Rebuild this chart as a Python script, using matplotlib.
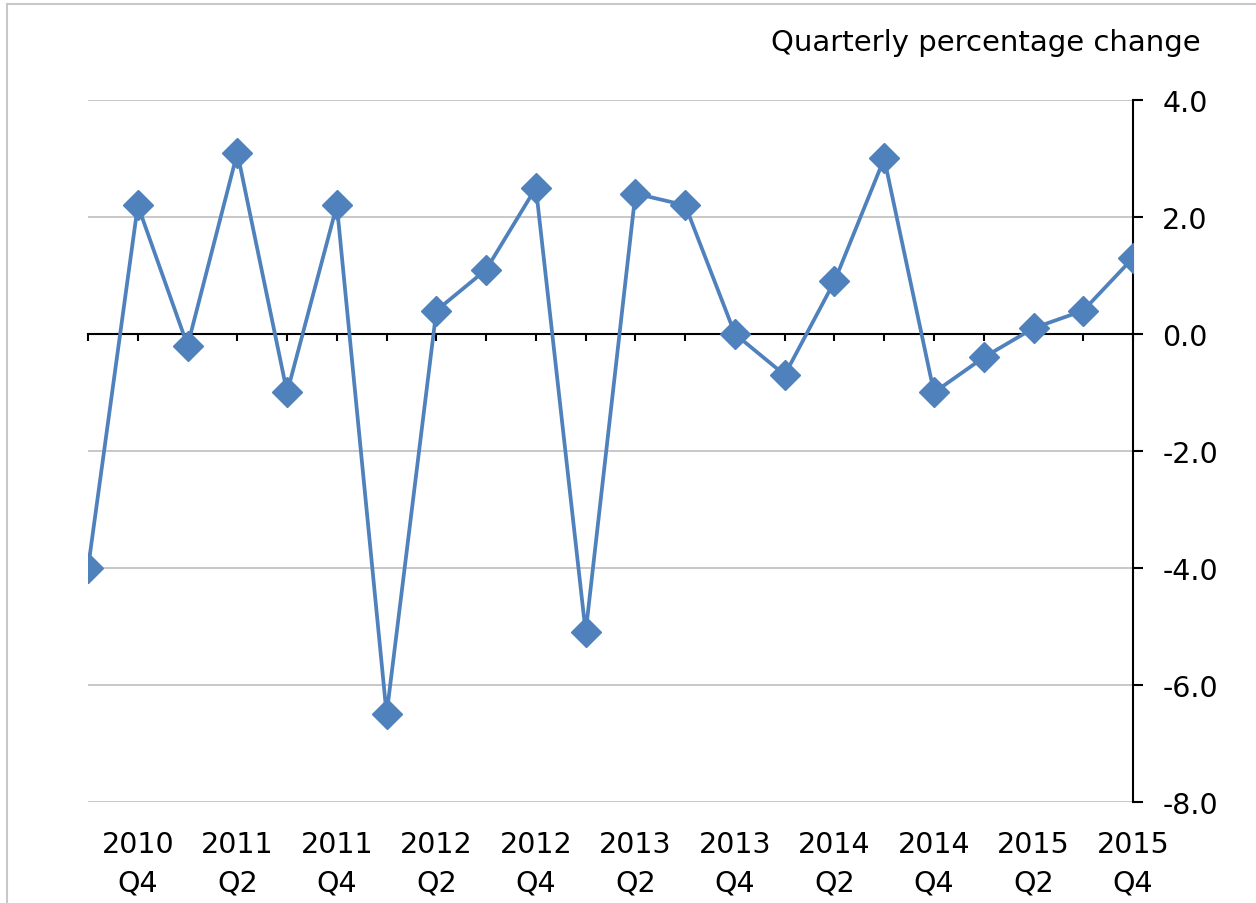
import matplotlib.pyplot as plt
from matplotlib.lines import Line2D

quarters = ["2010 Q3", "2010 Q4", "2011 Q1", "2011 Q2", "2011 Q3", "2011 Q4",
            "2012 Q1", "2012 Q2", "2012 Q3", "2012 Q4", "2013 Q1", "2013 Q2",
            "2013 Q3", "2013 Q4", "2014 Q1", "2014 Q2", "2014 Q3", "2014 Q4",
            "2015 Q1", "2015 Q2", "2015 Q3", "2015 Q4"]
change = [-4.0, 2.2, -0.2, 3.1, -1.0, 2.2, -6.5, 0.4, 1.1, 2.5, -5.1, 2.4,
          2.2, 0.0, -0.7, 0.9, 3.0, -1.0, -0.4, 0.1, 0.4, 1.3]
yticks = [-8, -6, -4, -2, 0, 2, 4]

plt.rcParams['font.family'] = ['DejaVu Sans']
plt.rcParams['axes.unicode_minus'] = False

fig = plt.figure(figsize=(12.56, 9.04), dpi=100)
ax = fig.add_axes([0.0701, 0.1117, 0.9021 - 0.0701, 0.8883 - 0.1117])

x = list(range(len(quarters)))
ax.plot(x, change, color="#4F81BD", lw=2.7, marker="D", ms=15.5, zorder=3)

ax.set_xlim(0, len(quarters) - 1)
ax.set_ylim(-8, 4)

# grid
for v in yticks:
    if v != 0:
        ax.axhline(v, color="#C4C4C4", lw=1.3, zorder=1)

# spines
ax.spines['top'].set_visible(False)
ax.spines['left'].set_visible(False)
ax.spines['right'].set_linewidth(1.5)
ax.spines['bottom'].set_position(('data', 0))
ax.spines['bottom'].set_linewidth(1.5)
ax.spines['bottom'].set_zorder(2)

# y axis on right
ax.yaxis.tick_right()
ax.set_yticks(yticks)
ax.set_yticklabels(["%.1f" % v for v in yticks])
ax.tick_params(axis='y', length=7, width=1.5, direction='out', pad=14,
               labelsize=20.5)

# x ticks on zero line
ax.set_xticks(x)
ax.set_xticklabels([])
ax.tick_params(axis='x', length=5, width=1.5, direction='out')

# labels at bottom
sec = ax.secondary_xaxis('bottom')
lab_idx = x[1::2]
sec.set_xticks(lab_idx)
sec.set_xticklabels([quarters[i].replace(" ", "\n") for i in lab_idx])
sec.spines['bottom'].set_visible(False)
sec.tick_params(length=0, pad=20, labelsize=20.5)
for t in sec.get_xticklabels():
    t.set_linespacing(1.5)

fig.text(0.956, 0.952, "Quarterly percentage change", ha="right", va="center",
         fontsize=21)

# outer frame (left and top edges)
fig.add_artist(Line2D([0.0056, 0.0056], [0, 0.9945], color="#C8C8C8", lw=1.5,
                      transform=fig.transFigure))
fig.add_artist(Line2D([0.0056, 1], [0.9945, 0.9945], color="#C8C8C8", lw=1.5,
                      transform=fig.transFigure))

fig.savefig("out.png", dpi=100)
